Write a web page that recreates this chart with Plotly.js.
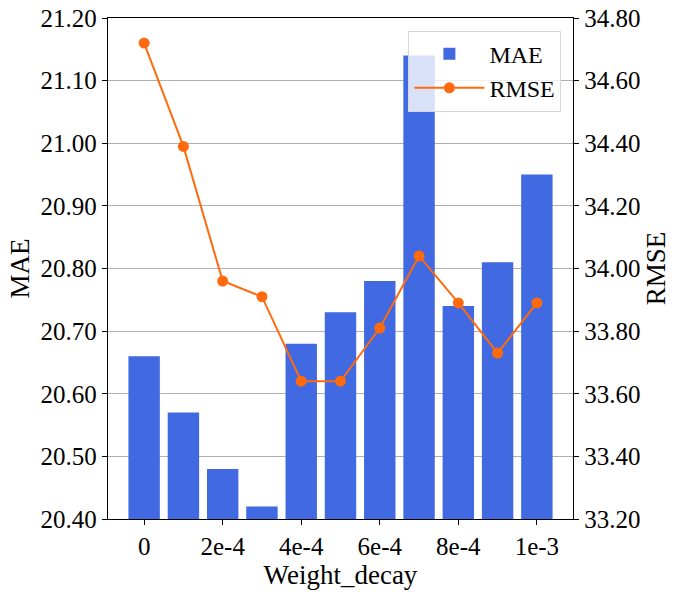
<!DOCTYPE html>
<html>
<head>
<meta charset="utf-8">
<script src="https://cdn.plot.ly/plotly-3.0.1.min.js"></script>
<style>
  html, body { margin: 0; padding: 0; background: #fff; }
  #chart { width: 680px; height: 594px; }
</style>
</head>
<body>
<div id="chart"></div>
<script>
// weight decay steps, 0 .. 1e-3
const weight_decay = ['0', '1e-4', '2e-4', '3e-4', '4e-4', '5e-4', '6e-4', '7e-4', '8e-4', '9e-4', '1e-3'];
const mae = [20.66, 20.57, 20.48, 20.42, 20.68, 20.73, 20.78, 21.14, 20.74, 20.81, 20.95];
const rmse = [34.72, 34.39, 33.96, 33.91, 33.64, 33.64, 33.81, 34.04, 33.89, 33.73, 33.89];
const tick_idx = [0, 2, 4, 6, 8, 10];

const FONT = 'Liberation Serif, Times New Roman, serif';
const TICK_FONT = {family: FONT, size: 25, color: '#000'};
const TITLE_FONT = {family: FONT, size: 27, color: '#000'};
const positions = weight_decay.map((_, i) => i);

const traces = [
  {
    type: 'bar',
    name: 'MAE',
    x: positions,
    y: mae,
    width: 0.8,
    marker: {color: '#4169e1'},
    yaxis: 'y',
  },
  {
    type: 'scatter',
    mode: 'lines+markers',
    name: 'RMSE',
    x: positions,
    y: rmse,
    line: {color: '#ff6a0e', width: 2},
    marker: {color: '#ff6a0e', size: 11},
    yaxis: 'y2',
  },
];

const axis_common = {
  ticks: 'outside',
  ticklen: 5,
  tickcolor: '#000',
  tickfont: TICK_FONT,
  showline: true,
  linecolor: '#000',
  linewidth: 1.3,
  zeroline: false,
};

const layout = {
  width: 680,
  height: 594,
  margin: {l: 108, r: 107, t: 18, b: 75, pad: 0},
  paper_bgcolor: '#fff',
  plot_bgcolor: '#fff',
  font: {family: FONT, size: 22, color: '#000'},
  showlegend: true,
  xaxis: {
    ...axis_common,
    range: [-0.92, 10.92],
    tickmode: 'array',
    tickvals: tick_idx,
    ticktext: tick_idx.map(i => weight_decay[i]),
    mirror: true,
    showgrid: false,
    title: {text: 'Weight_decay', font: TITLE_FONT, standoff: 2},
  },
  yaxis: {
    ...axis_common,
    range: [20.4, 21.2],
    tickmode: 'linear',
    tick0: 20.4,
    dtick: 0.1,
    tickformat: '.2f',
    showgrid: true,
    gridcolor: '#b0b0b0',
    gridwidth: 1,
    title: {text: 'MAE', font: TITLE_FONT, standoff: 3},
  },
  yaxis2: {
    ...axis_common,
    overlaying: 'y',
    side: 'right',
    range: [33.2, 34.8],
    tickmode: 'linear',
    tick0: 33.2,
    dtick: 0.2,
    tickformat: '.2f',
    showgrid: false,
    title: {text: 'RMSE', font: TITLE_FONT, standoff: 4},
  },
  legend: {
    x: 0.975,
    y: 0.975,
    xanchor: 'right',
    yanchor: 'top',
    bgcolor: 'rgba(255,255,255,0.8)',
    bordercolor: '#d6d6d6',
    borderwidth: 1,
    font: {family: FONT, size: 24, color: '#000'},
    itemwidth: 70,
    tracegroupgap: 0,
  },
};

Plotly.newPlot('chart', traces, layout, {displayModeBar: false, staticPlot: true});
</script>
</body>
</html>
